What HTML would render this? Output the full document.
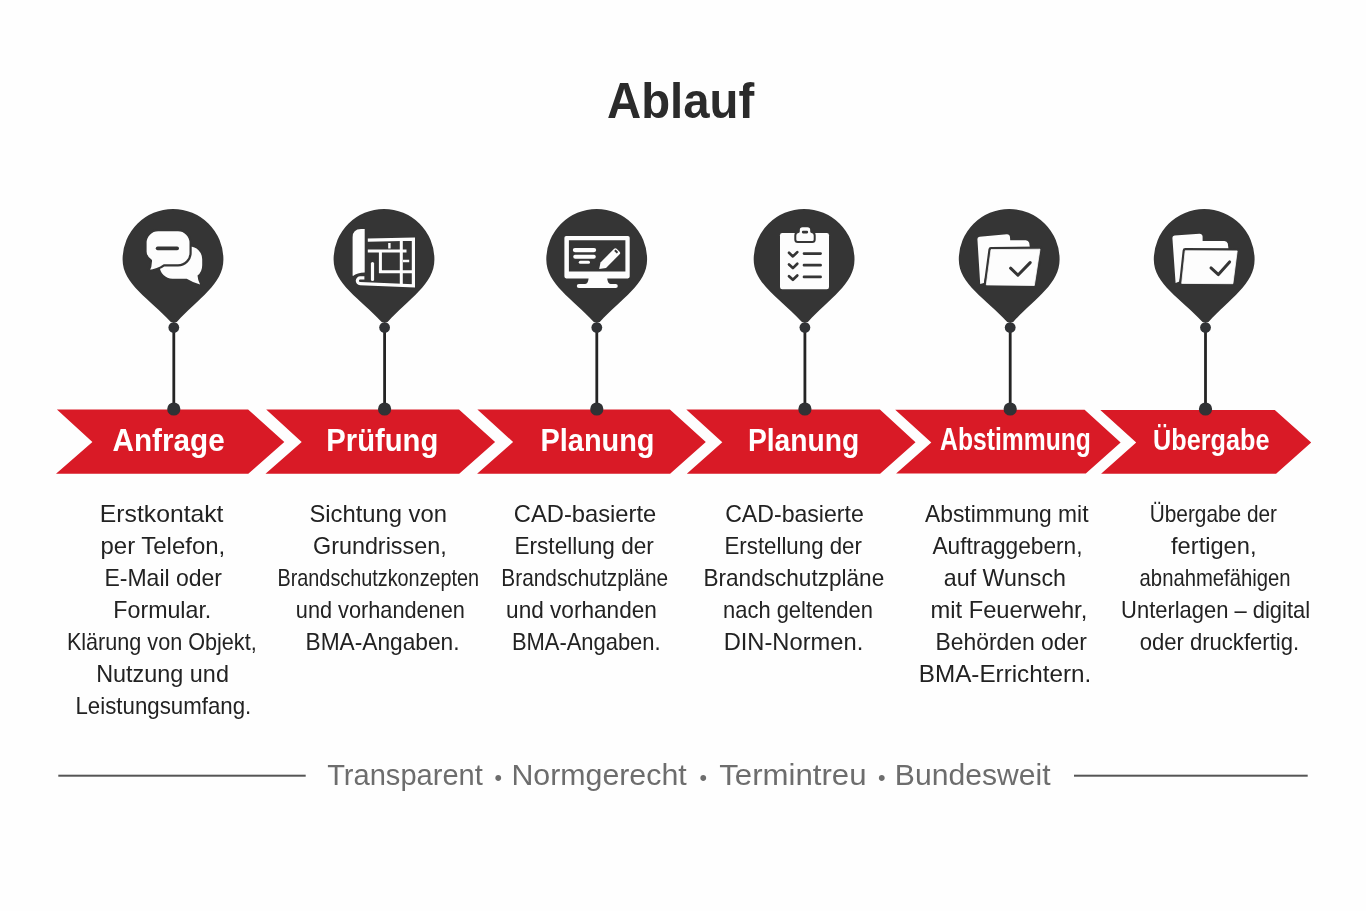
<!DOCTYPE html>
<html lang="de">
<head>
<meta charset="utf-8">
<title>Ablauf</title>
<style>
html,body{margin:0;padding:0;background:#fefefe;}
body{width:1366px;height:911px;overflow:hidden;}
svg{display:block;position:absolute;left:0;top:0;will-change:transform;}
text{font-family:"Liberation Sans",sans-serif;}
</style>
</head>
<body>
<svg width="1366" height="911" viewBox="0 0 1366 911">
<rect width="1366" height="911" fill="#fefefe"/>

<!-- title -->
<text x="607.01" y="118.00" font-size="50" fill="#2b2b2b" font-weight="bold" textLength="147.17" lengthAdjust="spacingAndGlyphs">Ablauf</text>
<!-- arrows -->
<polygon fill="#d91a26" points="56.9,409.4 248.1,409.4 284.3,441.9 248.3,473.8 56.0,473.8 92.4,441.9"/>
<polygon fill="#d91a26" points="266.2,409.4 459.0,409.4 495.1,441.9 459.2,473.8 265.5,473.8 301.7,441.9"/>
<polygon fill="#d91a26" points="477.4,409.6 669.9,409.6 705.8,442.0 670.1,473.7 477.1,473.7 513.1,442.0"/>
<polygon fill="#d91a26" points="686.3,409.6 879.9,409.6 915.5,442.2 880.1,473.7 686.8,473.7 722.3,442.2"/>
<polygon fill="#d91a26" points="895.2,409.8 1084.6,409.8 1120.6,442.4 1085.8,473.6 896.1,473.6 931.3,442.4"/>
<polygon fill="#d91a26" points="1100.3,410.0 1274.8,410.0 1311.2,442.6 1276.1,473.7 1101.1,473.7 1136.2,442.6"/>
<text x="112.52" y="451.40" font-size="31" fill="#ffffff" font-weight="bold" textLength="112.21" lengthAdjust="spacingAndGlyphs">Anfrage</text>
<text x="326.37" y="451.40" font-size="31" fill="#ffffff" font-weight="bold" textLength="111.93" lengthAdjust="spacingAndGlyphs">Prüfung</text>
<text x="540.49" y="451.40" font-size="31" fill="#ffffff" font-weight="bold" textLength="114.03" lengthAdjust="spacingAndGlyphs">Planung</text>
<text x="747.88" y="451.40" font-size="31" fill="#ffffff" font-weight="bold" textLength="111.35" lengthAdjust="spacingAndGlyphs">Planung</text>
<text x="940.09" y="450.00" font-size="31" fill="#ffffff" font-weight="bold" textLength="150.82" lengthAdjust="spacingAndGlyphs">Abstimmung</text>
<text x="1153.10" y="450.00" font-size="30" fill="#ffffff" font-weight="bold" textLength="116.35" lengthAdjust="spacingAndGlyphs">Übergabe</text>
<!-- pins -->
<rect x="172.40" y="327" width="2.8" height="82" fill="#242424"/>
<circle cx="173.8" cy="327.5" r="5.4" fill="#303235"/>
<circle cx="173.8" cy="409" r="6.6" fill="#303235"/>
<path fill="#353535" d="M122.60,259.40 A50.4,50.4 0 0 1 223.40,259.40 C223.40,284.40 197.80,298.5 176.80,322 L170.80,322 C149.80,298.5 122.60,284.40 122.60,259.40Z"/>
<g>
<path fill="#fdfdfd" d="M176,246.6 h13.6 a12.6,12.6 0 0 1 12.6,12.6 v6 q0,6.6 -4.7,10.4 q0.3,4.8 2.6,8.8 q-7,-1.6 -13.4,-5.6 h-14.3 a12.6,12.6 0 0 1 -12.6,-12.6 v-7 a12.6,12.6 0 0 1 12.6,-12.6z"/>
<path fill="#fdfdfd" stroke="#353535" stroke-width="2.2" stroke-linejoin="round" d="M158.1,230.2 h19.9 a12.6,12.6 0 0 1 12.6,12.6 v9.9 a12.6,12.6 0 0 1 -12.6,12.6 h-14 q-6,4.6 -15.6,5.7 q2.7,-4.8 2.5,-10.6 q-5.4,-3.6 -5.4,-9 v-8.6 a12.6,12.6 0 0 1 12.6,-12.6z"/>
<rect x="155.8" y="246.5" width="23.2" height="3.7" rx="1.85" fill="#353535"/>
</g>
<rect x="383.20" y="327" width="2.8" height="82" fill="#242424"/>
<circle cx="384.6" cy="327.5" r="5.4" fill="#303235"/>
<circle cx="384.6" cy="409" r="6.6" fill="#303235"/>
<path fill="#353535" d="M333.60,259.40 A50.4,50.4 0 0 1 434.40,259.40 C434.40,284.40 408.60,298.5 387.60,322 L381.60,322 C360.60,298.5 333.60,284.40 333.60,259.40Z"/>
<g>
<path fill="#fdfdfd" d="M364.7,228.9 V272.4 Q357.2,272.6 353,276 L352.6,275.4 V237.2 Q352.6,229 361,228.9z"/>
<path fill="none" stroke="#fdfdfd" stroke-width="3.2" stroke-linejoin="miter" d="M364.4,277.9 H360.4 a2.9,2.9 0 0 0 -0.3,5.8 L413.4,285.8 V239.2 L367.8,240.2"/>
<path fill="none" stroke="#fdfdfd" stroke-width="3" d="M367.8,250.9 H406.5 M401.3,240 V284.6 M380.4,250.9 V271.8 H412"/>
<path fill="none" stroke="#fdfdfd" stroke-width="3.2" stroke-linecap="round" d="M372.5,263.6 V279.4"/>
<path fill="none" stroke="#fdfdfd" stroke-width="2.4" d="M389.4,243 V248.4 M403,261 H409.2"/>
</g>
<rect x="595.40" y="327" width="2.8" height="82" fill="#242424"/>
<circle cx="596.8" cy="327.5" r="5.4" fill="#303235"/>
<circle cx="596.8" cy="409" r="6.6" fill="#303235"/>
<path fill="#353535" d="M546.30,259.40 A50.4,50.4 0 0 1 647.10,259.40 C647.10,284.40 620.80,298.5 599.80,322 L593.80,322 C572.80,298.5 546.30,284.40 546.30,259.40Z"/>
<g>
<path fill="#fdfdfd" fill-rule="evenodd" d="M566.2,236 h61.7 a1.8,1.8 0 0 1 1.8,1.8 v38.8 a1.8,1.8 0 0 1 -1.8,1.8 h-61.7 a1.8,1.8 0 0 1 -1.8,-1.8 v-38.8 a1.8,1.8 0 0 1 1.8,-1.8z M568.9,240.3 v31.2 h56.5 v-31.2z"/>
<path fill="#fdfdfd" d="M588.6,278 h18.6 q0.2,5.6 3.4,5.9 h5.1 a2.1,2.1 0 0 1 0,4.2 h-36.8 a2.1,2.1 0 0 1 0,-4.2 h6.3 q3.2,-0.3 3.4,-5.9z"/>
<rect x="572.8" y="247.9" width="23.4" height="4.3" rx="2.15" fill="#fdfdfd"/>
<rect x="573.2" y="254.7" width="22.6" height="4.1" rx="2.05" fill="#fdfdfd"/>
<rect x="578.8" y="260.8" width="11.2" height="3" rx="1.5" fill="#fdfdfd"/>
<path fill="#fdfdfd" d="M599.2,269 l1.3,-6.6 l13.6,-13.6 a1.8,1.8 0 0 1 2.5,0 l3,3 a1.8,1.8 0 0 1 0,2.5 l-13.6,13.6z"/>
<path fill="#353535" d="M614.2,250.9 l1.4,-1.4 l2.6,2.6 l-1.4,1.4z"/>
</g>
<rect x="803.50" y="327" width="2.8" height="82" fill="#242424"/>
<circle cx="804.9" cy="327.5" r="5.4" fill="#303235"/>
<circle cx="804.9" cy="409" r="6.6" fill="#303235"/>
<path fill="#353535" d="M753.70,259.40 A50.4,50.4 0 0 1 854.50,259.40 C854.50,284.40 828.90,298.5 807.90,322 L801.90,322 C780.90,298.5 753.70,284.40 753.70,259.40Z"/>
<g>
<rect x="780" y="233" width="49" height="56.2" rx="2.2" fill="#fdfdfd"/>
<path fill="#fdfdfd" stroke="#353535" stroke-width="2" stroke-linejoin="round" d="M795.3,239.5 v-4 q0,-3 3,-3.4 q0.5,-0.1 0.5,-0.8 v-1.2 a3.8,3.8 0 0 1 3.8,-3.8 h4.8 a3.8,3.8 0 0 1 3.8,3.8 v1.2 q0,0.7 0.5,0.8 q3,0.4 3,3.4 v4 a2.5,2.5 0 0 1 -2.5,2.5 h-14.4 a2.5,2.5 0 0 1 -2.5,-2.5z"/>
<rect x="801.9" y="230.8" width="6.2" height="2.6" rx="1.1" fill="#353535"/>
<g fill="none" stroke="#353535" stroke-width="2.7" stroke-linecap="round" stroke-linejoin="round">
<path d="M789,252.8 l3.9,3.6 l4.4,-4.3 M804,253.6 h16.6"/>
<path d="M789,264.5 l3.9,3.6 l4.4,-4.3 M804,265.2 h16.6"/>
<path d="M789,276.2 l3.9,3.6 l4.4,-4.3 M804,276.9 h16.6"/>
</g>
</g>
<rect x="1008.80" y="327" width="2.8" height="82" fill="#242424"/>
<circle cx="1010.2" cy="327.5" r="5.4" fill="#303235"/>
<circle cx="1010.2" cy="409" r="6.6" fill="#303235"/>
<path fill="#353535" d="M958.80,259.40 A50.4,50.4 0 0 1 1059.60,259.40 C1059.60,284.40 1034.20,298.5 1013.20,322 L1007.20,322 C986.20,298.5 958.80,284.40 958.80,259.40Z"/>
<g>
<path fill="#fdfdfd" d="M977.4,239.1 Q977.3,236.9 979.6,236.70000000000002 L1006.8,234.3 Q1009.6,234.20000000000002 1010.0,237.10000000000002 L1010.2,240.2 L1025.8,240.2 Q1028.3999999999999,240.29999999999998 1029.2,242.79999999999998 L1030.3999999999999,251.2 L991.0,251.6 L983.8,283.0 L980.2,284.0z"/>
<path fill="#353535" stroke="#353535" stroke-width="5.2" stroke-linejoin="round" d="M991.0,249.6 L1040.0,249.2 L1034.3,285.5 L986.3,284.9z"/>
<path fill="#fdfdfd" stroke="#fdfdfd" stroke-width="0.8" stroke-linejoin="round" d="M991.0,249.6 L1040.0,249.2 L1034.3,285.5 L986.3,284.9z"/>
<path fill="none" stroke="#353535" stroke-width="3" stroke-linecap="round" stroke-linejoin="round" d="M1010.6,268.2 L1017.9,275.2 L1030.2,262.6"/>
</g>
<rect x="1204.10" y="327" width="2.8" height="82" fill="#242424"/>
<circle cx="1205.5" cy="327.5" r="5.4" fill="#303235"/>
<circle cx="1205.5" cy="409" r="6.6" fill="#303235"/>
<path fill="#353535" d="M1153.80,259.40 A50.4,50.4 0 0 1 1254.60,259.40 C1254.60,284.40 1229.50,298.5 1208.50,322 L1202.50,322 C1181.50,298.5 1153.80,284.40 1153.80,259.40Z"/>
<g>
<path fill="#fdfdfd" d="M1172.4,238.0 Q1172.3000000000002,235.8 1174.6000000000001,235.60000000000002 L1199.4,233.8 Q1202.2,233.70000000000002 1202.6,236.60000000000002 L1202.6,241.0 L1224.4,241.0 Q1227.0,241.1 1227.8000000000002,243.6 L1229.0,252.9 L1185.2,252.7 L1179.3,281.6 L1175.6,282.9z"/>
<path fill="#353535" stroke="#353535" stroke-width="5.2" stroke-linejoin="round" d="M1185.2,250.7 L1237.2,250.9 L1232.9,283.7 L1181.7,283.4z"/>
<path fill="#fdfdfd" stroke="#fdfdfd" stroke-width="0.8" stroke-linejoin="round" d="M1185.2,250.7 L1237.2,250.9 L1232.9,283.7 L1181.7,283.4z"/>
<path fill="none" stroke="#353535" stroke-width="3" stroke-linecap="round" stroke-linejoin="round" d="M1211.0,267.9 L1218.4,274.6 L1229.6,261.9"/>
</g>
<!-- body text -->
<text x="99.89" y="522.00" font-size="24" fill="#222222" font-weight="normal" textLength="123.58" lengthAdjust="spacingAndGlyphs">Erstkontakt</text>
<text x="100.49" y="554.00" font-size="24" fill="#222222" font-weight="normal" textLength="124.73" lengthAdjust="spacingAndGlyphs">per Telefon,</text>
<text x="104.49" y="586.00" font-size="24" fill="#222222" font-weight="normal" textLength="117.54" lengthAdjust="spacingAndGlyphs">E-Mail oder</text>
<text x="113.33" y="618.00" font-size="24" fill="#222222" font-weight="normal" textLength="97.98" lengthAdjust="spacingAndGlyphs">Formular.</text>
<text x="66.89" y="650.00" font-size="24" fill="#222222" font-weight="normal" textLength="189.80" lengthAdjust="spacingAndGlyphs">Klärung von Objekt,</text>
<text x="96.20" y="682.00" font-size="24" fill="#222222" font-weight="normal" textLength="132.71" lengthAdjust="spacingAndGlyphs">Nutzung und</text>
<text x="75.48" y="714.00" font-size="24" fill="#222222" font-weight="normal" textLength="175.77" lengthAdjust="spacingAndGlyphs">Leistungsumfang.</text>
<text x="309.43" y="522.00" font-size="24" fill="#222222" font-weight="normal" textLength="137.48" lengthAdjust="spacingAndGlyphs">Sichtung von</text>
<text x="312.99" y="554.00" font-size="24" fill="#222222" font-weight="normal" textLength="133.63" lengthAdjust="spacingAndGlyphs">Grundrissen,</text>
<text x="277.50" y="585.50" font-size="24" fill="#222222" font-weight="normal" textLength="201.65" lengthAdjust="spacingAndGlyphs">Brandschutzkonzepten</text>
<text x="295.86" y="618.00" font-size="24" fill="#222222" font-weight="normal" textLength="168.95" lengthAdjust="spacingAndGlyphs">und vorhandenen</text>
<text x="305.49" y="650.00" font-size="24" fill="#222222" font-weight="normal" textLength="154.09" lengthAdjust="spacingAndGlyphs">BMA-Angaben.</text>
<text x="513.83" y="522.00" font-size="24" fill="#222222" font-weight="normal" textLength="142.34" lengthAdjust="spacingAndGlyphs">CAD-basierte</text>
<text x="514.50" y="554.00" font-size="24" fill="#222222" font-weight="normal" textLength="139.27" lengthAdjust="spacingAndGlyphs">Erstellung der</text>
<text x="501.35" y="585.50" font-size="24" fill="#222222" font-weight="normal" textLength="166.78" lengthAdjust="spacingAndGlyphs">Brandschutzpläne</text>
<text x="506.07" y="618.00" font-size="24" fill="#222222" font-weight="normal" textLength="150.78" lengthAdjust="spacingAndGlyphs">und vorhanden</text>
<text x="511.88" y="650.00" font-size="24" fill="#222222" font-weight="normal" textLength="148.74" lengthAdjust="spacingAndGlyphs">BMA-Angaben.</text>
<text x="725.19" y="522.00" font-size="24" fill="#222222" font-weight="normal" textLength="138.58" lengthAdjust="spacingAndGlyphs">CAD-basierte</text>
<text x="724.50" y="554.00" font-size="24" fill="#222222" font-weight="normal" textLength="137.38" lengthAdjust="spacingAndGlyphs">Erstellung der</text>
<text x="703.50" y="585.50" font-size="24" fill="#222222" font-weight="normal" textLength="180.70" lengthAdjust="spacingAndGlyphs">Brandschutzpläne</text>
<text x="723.10" y="618.00" font-size="24" fill="#222222" font-weight="normal" textLength="149.81" lengthAdjust="spacingAndGlyphs">nach geltenden</text>
<text x="723.68" y="650.00" font-size="24" fill="#222222" font-weight="normal" textLength="139.56" lengthAdjust="spacingAndGlyphs">DIN-Normen.</text>
<text x="925.04" y="522.00" font-size="24" fill="#222222" font-weight="normal" textLength="163.48" lengthAdjust="spacingAndGlyphs">Abstimmung mit</text>
<text x="932.50" y="554.00" font-size="24" fill="#222222" font-weight="normal" textLength="150.02" lengthAdjust="spacingAndGlyphs">Auftraggebern,</text>
<text x="943.85" y="585.50" font-size="24" fill="#222222" font-weight="normal" textLength="122.06" lengthAdjust="spacingAndGlyphs">auf Wunsch</text>
<text x="930.49" y="618.00" font-size="24" fill="#222222" font-weight="normal" textLength="156.80" lengthAdjust="spacingAndGlyphs">mit Feuerwehr,</text>
<text x="935.50" y="650.00" font-size="24" fill="#222222" font-weight="normal" textLength="151.43" lengthAdjust="spacingAndGlyphs">Behörden oder</text>
<text x="918.85" y="681.50" font-size="24" fill="#222222" font-weight="normal" textLength="172.34" lengthAdjust="spacingAndGlyphs">BMA-Errichtern.</text>
<text x="1149.77" y="522.00" font-size="24" fill="#222222" font-weight="normal" textLength="127.22" lengthAdjust="spacingAndGlyphs">Übergabe der</text>
<text x="1171.06" y="554.00" font-size="24" fill="#222222" font-weight="normal" textLength="85.42" lengthAdjust="spacingAndGlyphs">fertigen,</text>
<text x="1139.62" y="585.50" font-size="24" fill="#222222" font-weight="normal" textLength="150.90" lengthAdjust="spacingAndGlyphs">abnahmefähigen</text>
<text x="1121.10" y="618.00" font-size="24" fill="#222222" font-weight="normal" textLength="189.01" lengthAdjust="spacingAndGlyphs">Unterlagen – digital</text>
<text x="1139.71" y="649.50" font-size="24" fill="#222222" font-weight="normal" textLength="159.36" lengthAdjust="spacingAndGlyphs">oder druckfertig.</text>
<!-- footer -->
<rect x="58.3" y="774.7" width="247.4" height="2" fill="#555"/>
<rect x="1074" y="774.7" width="233.7" height="2" fill="#555"/>
<text x="327.21" y="785.00" font-size="29" fill="#6d6d6d" font-weight="normal" textLength="155.56" lengthAdjust="spacingAndGlyphs">Transparent</text>
<text x="511.40" y="785.00" font-size="29" fill="#6d6d6d" font-weight="normal" textLength="175.32" lengthAdjust="spacingAndGlyphs">Normgerecht</text>
<text x="719.21" y="785.00" font-size="29" fill="#6d6d6d" font-weight="normal" textLength="147.33" lengthAdjust="spacingAndGlyphs">Termintreu</text>
<text x="894.83" y="785.00" font-size="29" fill="#6d6d6d" font-weight="normal" textLength="155.68" lengthAdjust="spacingAndGlyphs">Bundesweit</text>
<text x="498.3" y="784.6" font-size="21.5" text-anchor="middle" fill="#6d6d6d">•</text>
<text x="703.3" y="784.6" font-size="21.5" text-anchor="middle" fill="#6d6d6d">•</text>
<text x="881.7" y="784.6" font-size="21.5" text-anchor="middle" fill="#6d6d6d">•</text>
</svg>
</body>
</html>
